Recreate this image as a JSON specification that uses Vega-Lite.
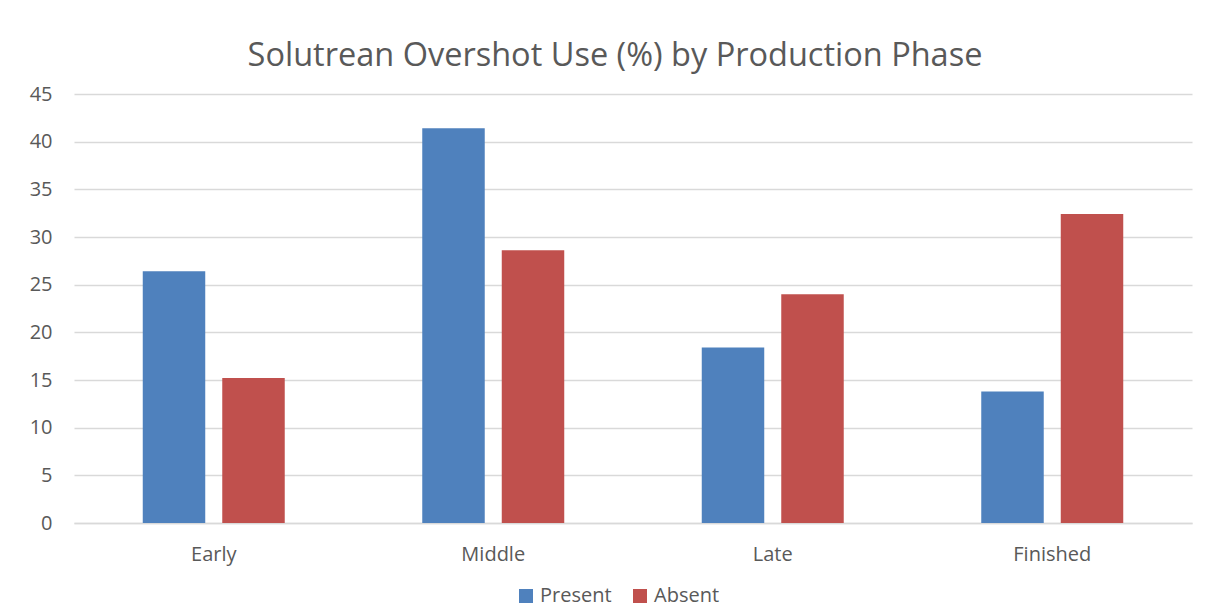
{
  "$schema": "https://vega.github.io/schema/vega-lite/v6.json",
  "width": 1118,
  "height": 429,
  "autosize": {"type": "none"},
  "padding": {"left": 74, "top": 94, "right": 19, "bottom": 89},
  "background": "white",
  "title": {
    "text": "Solutrean Overshot Use (%) by Production Phase",
    "fontSize": 32.5,
    "font": "Open Sans",
    "fontWeight": "normal",
    "color": "#595959",
    "anchor": "middle",
    "offset": 12,
    "dx": -18
  },
  "data": {
    "values": [
      {"phase": "Early", "presence": "Present", "value": 26.4},
      {"phase": "Early", "presence": "Absent", "value": 15.2},
      {"phase": "Middle", "presence": "Present", "value": 41.4},
      {"phase": "Middle", "presence": "Absent", "value": 28.6},
      {"phase": "Late", "presence": "Present", "value": 18.4},
      {"phase": "Late", "presence": "Absent", "value": 24.0},
      {"phase": "Finished", "presence": "Present", "value": 13.8},
      {"phase": "Finished", "presence": "Absent", "value": 32.4}
    ]
  },
  "mark": {"type": "bar"},
  "encoding": {
    "x": {
      "field": "phase",
      "type": "nominal",
      "sort": ["Early", "Middle", "Late", "Finished"],
      "scale": {"paddingInner": 0.492, "paddingOuter": 0.246},
      "axis": {
        "title": null,
        "labelAngle": 0,
        "labelFontSize": 20,
        "labelFont": "Open Sans",
        "labelColor": "#595959",
        "ticks": false,
        "domainColor": "#d9d9d9",
        "domainWidth": 1.5,
        "labelPadding": 21
      }
    },
    "xOffset": {
      "field": "presence",
      "sort": ["Present", "Absent"],
      "scale": {"paddingInner": 0.214}
    },
    "y": {
      "field": "value",
      "type": "quantitative",
      "scale": {"domain": [0, 45]},
      "axis": {
        "title": null,
        "values": [0, 5, 10, 15, 20, 25, 30, 35, 40, 45],
        "grid": true,
        "gridColor": "#d9d9d9",
        "gridWidth": 1.5,
        "domain": false,
        "ticks": false,
        "labelFontSize": 20,
        "labelFont": "Open Sans",
        "labelColor": "#595959",
        "labelPadding": 22
      }
    },
    "color": {
      "field": "presence",
      "type": "nominal",
      "sort": ["Present", "Absent"],
      "scale": {"domain": ["Present", "Absent"], "range": ["#4F81BD", "#C0504D"]},
      "legend": {
        "title": null,
        "orient": "none",
        "legendX": 442,
        "legendY": 492,
        "direction": "horizontal",
        "symbolType": "square",
        "symbolSize": 196,
        "symbolStrokeWidth": 0,
        "labelFontSize": 20,
        "labelFont": "Open Sans",
        "labelColor": "#595959",
        "labelOffset": 4,
        "columnPadding": 18
      }
    }
  },
  "config": {"view": {"stroke": null}}
}
